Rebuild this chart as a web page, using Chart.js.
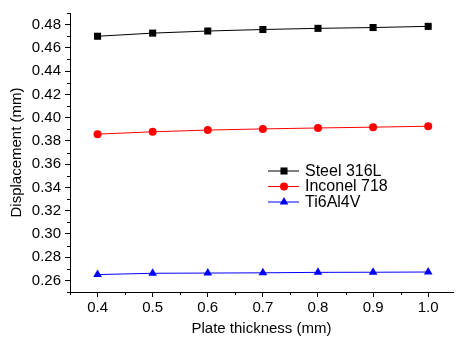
<!DOCTYPE html>
<html>
<head>
<meta charset="utf-8">
<script src="https://cdn.jsdelivr.net/npm/chart.js@4.4.1/dist/chart.umd.min.js"></script>
<style>
  html, body { margin: 0; padding: 0; background: #fff; }
  #wrap { width: 458px; height: 345px; }
</style>
</head>
<body>
<div id="wrap"><canvas id="chart" width="458" height="345"></canvas></div>
<script>
  // plate thickness (mm)
  var thickness = [0.4, 0.5, 0.6, 0.7, 0.8, 0.9, 1.0];
  // displacement (mm)
  var steel316L = [0.4700, 0.4727, 0.4745, 0.4758, 0.4768, 0.4775, 0.4785];
  var inconel718 = [0.3858, 0.3878, 0.3893, 0.3903, 0.3911, 0.3918, 0.3926];
  var ti6Al4V = [0.2650, 0.2661, 0.2663, 0.2665, 0.2669, 0.2670, 0.2672];

  var xMajor = [0.4, 0.5, 0.6, 0.7, 0.8, 0.9, 1.0];
  var xMinor = [0.35, 0.45, 0.55, 0.65, 0.75, 0.85, 0.95];
  var yMajor = [0.26, 0.28, 0.30, 0.32, 0.34, 0.36, 0.38, 0.40, 0.42, 0.44, 0.46, 0.48];
  var yMinor = [0.25, 0.27, 0.29, 0.31, 0.33, 0.35, 0.37, 0.39, 0.41, 0.43, 0.45, 0.47, 0.49];

  var FONT = "'Liberation Sans', Arial, sans-serif";

  function points(ys) {
    return thickness.map(function (x, i) {
      return { x: x, y: ys[i] };
    });
  }

  function series(label, ys, color, style, radius) {
    return {
      label: label,
      data: points(ys),
      borderColor: color,
      backgroundColor: color,
      borderWidth: 1,
      pointStyle: style,
      pointRadius: radius,
      pointBorderWidth: 0,
      pointBackgroundColor: color,
      tension: 0,
    };
  }

  // minor tick marks, shorter than the major ones
  var minorTicks = {
    id: "minorTicks",
    afterDraw: function (chart) {
      var ctx = chart.ctx;
      var xs = chart.scales.x;
      var ys = chart.scales.y;
      var area = chart.chartArea;
      ctx.save();
      ctx.strokeStyle = "#000";
      ctx.lineWidth = 1;
      ctx.beginPath();
      xMinor.forEach(function (v) {
        var px = Math.round(xs.getPixelForValue(v)) + 0.5;
        ctx.moveTo(px, area.bottom);
        ctx.lineTo(px, area.bottom + 3);
      });
      yMinor.forEach(function (v) {
        var py = Math.round(ys.getPixelForValue(v)) + 0.5;
        ctx.moveTo(area.left, py);
        ctx.lineTo(area.left - 3, py);
      });
      ctx.stroke();
      ctx.restore();
    },
  };

  // legend drawn inside the plot, line + marker + text
  var innerLegend = {
    id: "innerLegend",
    afterDraw: function (chart) {
      var ctx = chart.ctx;
      var rows = [171, 186.5, 202];
      ctx.save();
      chart.data.datasets.forEach(function (ds, i) {
        var y = rows[i];
        ctx.strokeStyle = ds.borderColor;
        ctx.fillStyle = ds.borderColor;
        ctx.lineWidth = 1;
        ctx.beginPath();
        ctx.moveTo(268, y);
        ctx.lineTo(299, y);
        ctx.stroke();
        Chart.helpers.drawPoint(
          ctx,
          { pointStyle: ds.pointStyle, radius: ds.pointRadius, rotation: 0, borderWidth: 0 },
          284,
          y
        );
        ctx.fillStyle = "#000";
        ctx.font = "16px " + FONT;
        ctx.textBaseline = "middle";
        ctx.textAlign = "left";
        ctx.fillText(ds.label, 305, y + 0.5);
      });
      ctx.restore();
    },
  };

  new Chart(document.getElementById("chart"), {
    type: "line",
    data: {
      datasets: [
        series("Steel 316L", steel316L, "#000000", "rect", 5),
        series("Inconel 718", inconel718, "#ff0000", "circle", 4),
        series("Ti6Al4V", ti6Al4V, "#0000ff", "triangle", 5),
      ],
    },
    options: {
      responsive: false,
      animation: false,
      events: [],
      layout: { padding: { top: 6, right: 1, left: 0, bottom: 0 } },
      plugins: {
        legend: { display: false },
        tooltip: { enabled: false },
      },
      scales: {
        x: {
          type: "linear",
          min: 0.35,
          max: 1.045,
          afterBuildTicks: function (scale) {
            scale.ticks = xMajor.map(function (v) { return { value: v }; });
          },
          afterFit: function (scale) {
            scale.height = 53;
          },
          ticks: {
            color: "#000",
            font: { family: FONT, size: 15 },
            padding: 2,
            maxRotation: 0,
            autoSkip: false,
            callback: function (v) { return Number(v).toFixed(1); },
          },
          grid: { drawOnChartArea: false, drawTicks: true, tickLength: 5, color: "#000" },
          border: { display: true, color: "#000", width: 1 },
          title: {
            display: true,
            text: "Plate thickness (mm)",
            color: "#000",
            font: { family: FONT, size: 15 },
            padding: { top: 0, bottom: 7 },
          },
        },
        y: {
          type: "linear",
          min: 0.25,
          max: 0.49,
          afterBuildTicks: function (scale) {
            scale.ticks = yMajor.map(function (v) { return { value: v }; });
          },
          afterFit: function (scale) {
            scale.width = 70;
          },
          ticks: {
            color: "#000",
            font: { family: FONT, size: 15 },
            padding: 4,
            autoSkip: false,
            callback: function (v) { return Number(v).toFixed(2); },
          },
          grid: { drawOnChartArea: false, drawTicks: true, tickLength: 5, color: "#000" },
          border: { display: true, color: "#000", width: 1 },
          title: {
            display: true,
            text: "Displacement (mm)",
            color: "#000",
            font: { family: FONT, size: 15 },
            padding: { top: 8, bottom: 0 },
          },
        },
      },
    },
    plugins: [minorTicks, innerLegend],
  });
</script>
</body>
</html>
